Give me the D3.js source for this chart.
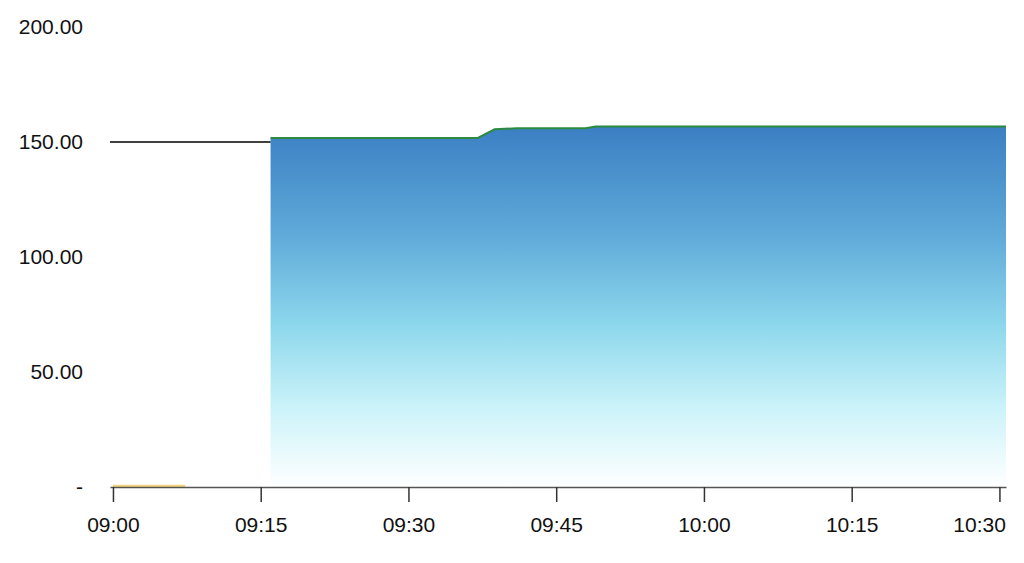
<!DOCTYPE html>
<html>
<head>
<meta charset="utf-8">
<script src="https://cdn.jsdelivr.net/npm/d3@7"></script>
<style>
  body { margin: 0; background: #fff; }
  svg text { font-family: "Liberation Sans", Arial, sans-serif; }
</style>
</head>
<body>
<svg id="chart" width="1024" height="563"></svg>
<script>
// price series (area + green line)
let priceTimes = ["09:16", "09:37", "09:38:45", "09:41", "09:48", "09:49", "10:30:40"];
let priceValues = [151.7, 151.7, 155.5, 156.0, 156.0, 156.7, 156.7];

// reference level before the open
let refTimes = ["08:59:42", "09:16"];
let refValues = [150, 150];

// small series near zero at the start
let lowTimes = ["09:00", "09:07:20"];
let lowValues = [0, 0];

let xTickTimes = ["09:00", "09:15", "09:30", "09:45", "10:00", "10:15", "10:30"];
let yTicks = [0, 50, 100, 150, 200];

let parseT = s => {
    let p = s.split(":").map(Number);
    return new Date(2020, 0, 1, p[0], p[1], p[2] || 0);
};

let svg = d3.select("#chart");

let xScale = d3.scaleTime()
    .domain([parseT("08:59:42"), parseT("10:30:40")])
    .range([110, 1006]);

let yScale = d3.scaleLinear()
    .domain([0, 200])
    .range([487, 27]);

let toPoints = (times, values) => times.map((t, i) => ({date: parseT(t), value: values[i]}));
let priceData = toPoints(priceTimes, priceValues);
let refData = toPoints(refTimes, refValues);
let lowData = toPoints(lowTimes, lowValues);

// gradient for the area
let grad = svg.append("defs").append("linearGradient")
    .attr("id", "areaGrad")
    .attr("x1", 0).attr("x2", 0).attr("y1", 0).attr("y2", 1);
[[0, "#3b7fc3"], [0.3, "#5faad9"], [0.55, "#8dd7ec"], [0.78, "#cbf3f9"], [1, "#ffffff"]]
    .forEach(s => grad.append("stop").attr("offset", s[0]).attr("stop-color", s[1]));

let area = d3.area()
    .x(d => xScale(d.date))
    .y0(yScale(0))
    .y1(d => yScale(d.value));

let line = d3.line()
    .x(d => xScale(d.date))
    .y(d => yScale(d.value));

svg.append("path")
    .datum(priceData)
    .attr("d", area)
    .style("fill", "url(#areaGrad)");

svg.append("path")
    .datum(refData)
    .attr("d", line)
    .style("fill", "none")
    .style("stroke", "#000")
    .style("stroke-width", 1.5);

svg.append("path")
    .datum(priceData)
    .attr("d", line)
    .style("fill", "none")
    .style("stroke", "#2b8a3e")
    .style("stroke-width", 2);

svg.append("path")
    .datum(lowData)
    .attr("d", line)
    .attr("transform", "translate(0,-1)")
    .style("fill", "none")
    .style("stroke", "#f3d67c")
    .style("stroke-width", 2.5);

// x axis
let xAxis = d3.axisBottom(xScale)
    .tickValues(xTickTimes.map(parseT))
    .tickFormat(d3.timeFormat("%H:%M"))
    .tickSize(15)
    .tickSizeOuter(0);

let gx = svg.append("g")
    .attr("transform", "translate(0," + yScale(0) + ")")
    .call(xAxis);
gx.select(".domain").style("stroke", "#555").style("stroke-width", 1.5);
gx.selectAll(".tick line").style("stroke", "#333").style("stroke-width", 1.5);
gx.selectAll(".tick text")
    .attr("y", 30)
    .style("font-size", "21px")
    .style("fill", "#111");
// keep the last label inside the chart
gx.selectAll(".tick text")
    .filter((d, i, n) => i === n.length - 1)
    .attr("text-anchor", "end")
    .attr("x", 6);

// y axis (labels only)
let yAxis = d3.axisLeft(yScale)
    .tickValues(yTicks)
    .tickFormat(d => d === 0 ? "-" : d.toFixed(2))
    .tickSize(0)
    .tickPadding(0);

let gy = svg.append("g")
    .attr("transform", "translate(83,0)")
    .call(yAxis);
gy.select(".domain").remove();
gy.selectAll(".tick text")
    .style("font-size", "21px")
    .style("fill", "#111");
</script>
</body>
</html>
